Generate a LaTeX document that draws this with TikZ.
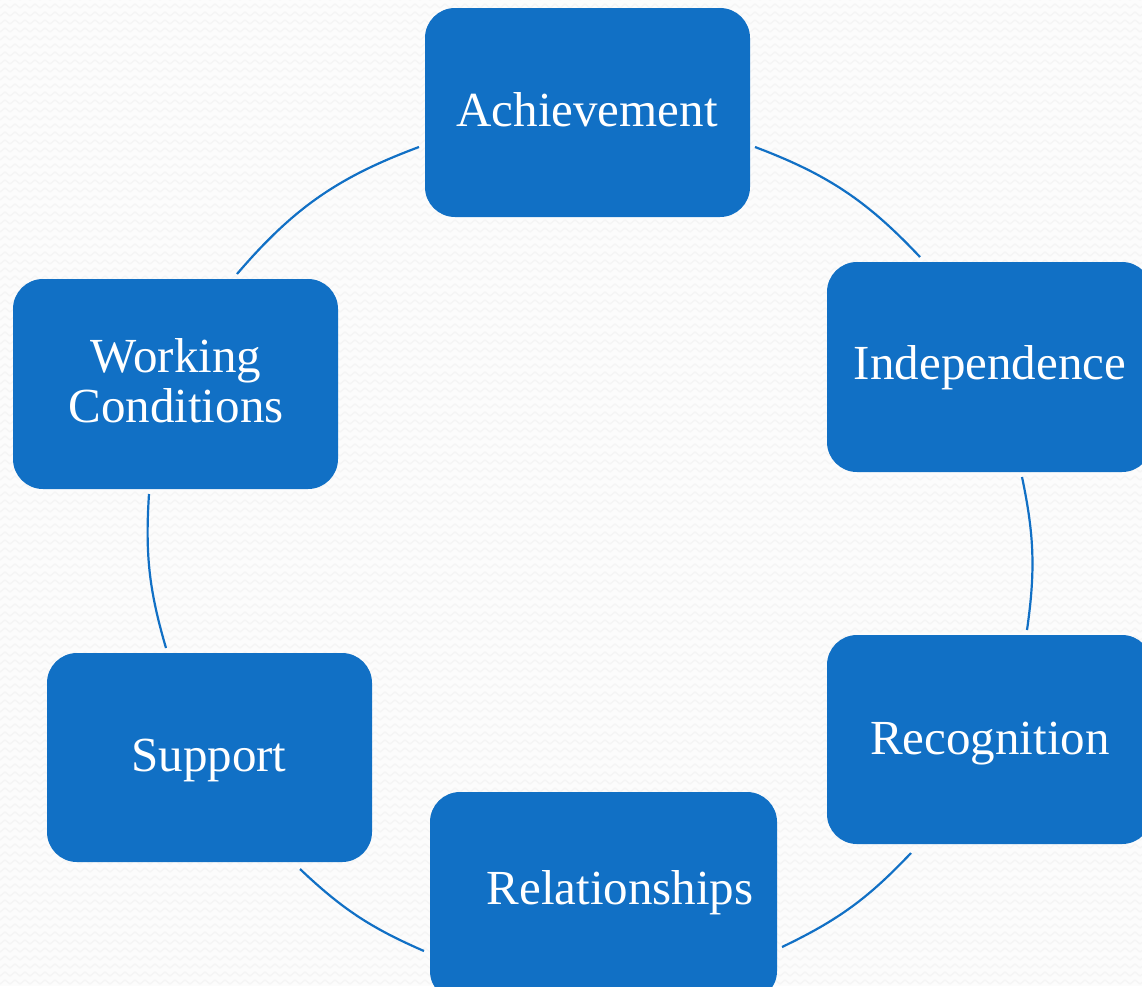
\documentclass[tikz,border=0pt]{standalone}
\usepackage{fontspec}
\setmainfont{Liberation Serif}
\usetikzlibrary{patterns}
\definecolor{boxblue}{RGB}{17,112,197}
\definecolor{bgcol}{RGB}{252,252,252}
\pgfdeclarepatternformonly{zigwave}{\pgfpoint{-1pt}{-1pt}}{\pgfpoint{11pt}{9pt}}{\pgfpoint{10pt}{8pt}}{%
  \pgfsetlinewidth{1.3pt}%
  \pgfpathmoveto{\pgfpoint{0pt}{2pt}}%
  \pgfpathlineto{\pgfpoint{5pt}{6pt}}%
  \pgfpathlineto{\pgfpoint{10pt}{2pt}}%
  \pgfusepath{stroke}}
\begin{document}
\begin{tikzpicture}[x=1pt,y=-1pt,
  box/.style={fill=boxblue, draw=none, rounded corners=30pt, rectangle, inner sep=0pt},
  lbl/.style={text=white, font=\fontsize{49}{48}\selectfont, anchor=base, inner sep=0pt},
  link/.style={draw=boxblue, line width=2.2pt}]
\useasboundingbox (0,0) rectangle (1142,986);
\fill[bgcol] (0,0) rectangle (1142,986);
\fill[pattern=zigwave, pattern color=black!4] (0,0) rectangle (1142,986);

% connectors (arc segments of the cycle)
\coordinate (p1a) at (755,147);  \coordinate (p1b) at (920,257);
\coordinate (p2a) at (1022,477); \coordinate (p2b) at (1027,630);
\coordinate (p3a) at (911,853);  \coordinate (p3b) at (782,947);
\coordinate (p4a) at (424,951);  \coordinate (p4b) at (300,869);
\coordinate (p5a) at (166,648);  \coordinate (p5b) at (149,494);
\coordinate (p6a) at (237,274);  \coordinate (p6b) at (419,147);
\draw[link] (p1a) to[bend left=13] (p1b);
\draw[link] (p2a) to[bend left=10] (p2b);
\draw[link] (p3a) to[bend left=10.5] (p3b);
\draw[link] (p4a) to[bend left=10] (p4b);
\draw[link] (p5a) to[bend left=10] (p5b);
\draw[link] (p6a) to[bend left=14.5] (p6b);

% boxes
\node[box, minimum width=325pt, minimum height=209pt] (ach) at (587.5,112.5) {};
\node[box, minimum width=325pt, minimum height=210pt] (ind) at (989.5,367) {};
\node[box, minimum width=325pt, minimum height=209pt] (rec) at (989.5,739.5) {};
\node[box, minimum width=347pt, minimum height=209pt] (rel) at (603.5,896.5) {};
\node[box, minimum width=325pt, minimum height=209pt] (sup) at (209.5,757.5) {};
\node[box, minimum width=325pt, minimum height=210pt] (wor) at (175.5,384) {};

% labels
\node[lbl] (tach) at (587,126) {Achievement};
\node[lbl] (tind) at (990,379) {Independence};
\node[lbl] (trec) at (990,754) {Recognition};
\node[lbl] (trel) at (620,904) {Relationships};
\node[lbl] (tsup) at (209,771) {Support};
\node[lbl] (twor1) at (176,372) {Working};
\node[lbl] (twor2) at (176,422) {Conditions};
\end{tikzpicture}
\end{document}
